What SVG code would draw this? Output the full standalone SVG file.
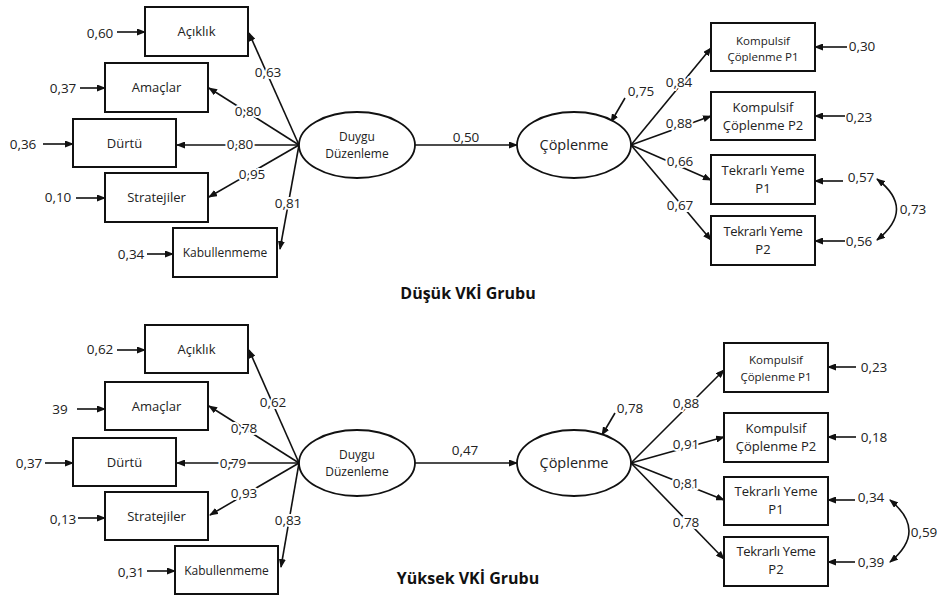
<svg xmlns="http://www.w3.org/2000/svg" width="937" height="597" viewBox="0 0 937 597">
<style>
text{font-family:"Open Sans","Liberation Sans",sans-serif;fill:#222;}
.box{fill:#fff;stroke:#111;stroke-width:2;}
.ell{fill:#fff;stroke:#111;stroke-width:1.8;}
.t13{font-size:13px;text-anchor:middle;}
.t12{font-size:12px;text-anchor:middle;}
.t11{font-size:11.5px;text-anchor:middle;}
.t15{font-size:14.5px;text-anchor:middle;}
.num{font-size:13.5px;text-anchor:middle;}
.lbl{font-size:13.5px;text-anchor:middle;stroke:#fff;stroke-width:4;paint-order:stroke;}
.title{font-size:16px;font-weight:bold;text-anchor:middle;fill:#111;}
.c line,.c path{stroke:#111;stroke-width:1.6;fill:none;marker-end:url(#ah);}
.c path.dbl{marker-start:url(#ah2);}
</style>
<defs>
<marker id="ah" markerUnits="userSpaceOnUse" markerWidth="9" markerHeight="7" refX="8" refY="3.5" orient="auto"><path d="M0,0 L9,3.5 L0,7 z" fill="#111"/></marker>
<marker id="ah2" markerUnits="userSpaceOnUse" markerWidth="9" markerHeight="7" refX="8" refY="3.5" orient="auto-start-reverse"><path d="M0,0 L9,3.5 L0,7 z" fill="#111"/></marker>
</defs>

<g id="connectors" class="c">
<!-- top: errors left -->
<line x1="117" y1="32" x2="145" y2="32"/>
<line x1="80" y1="88" x2="105" y2="88"/>
<line x1="43" y1="144" x2="73" y2="144"/>
<line x1="76" y1="198" x2="105" y2="198"/>
<line x1="147" y1="254" x2="173" y2="254"/>
<!-- top: loadings left -->
<line x1="299" y1="145" x2="249" y2="33"/>
<line x1="299" y1="145" x2="209" y2="88"/>
<line x1="299" y1="145" x2="177" y2="145"/>
<line x1="299" y1="145" x2="209" y2="197"/>
<line x1="299" y1="145" x2="280" y2="249"/>
<!-- top: structural -->
<line x1="415" y1="145" x2="517" y2="145"/>
<line x1="625" y1="98" x2="611" y2="122"/>
<!-- top: loadings right -->
<line x1="631" y1="145" x2="711" y2="48"/>
<line x1="631" y1="145" x2="711" y2="116"/>
<line x1="631" y1="145" x2="711" y2="180"/>
<line x1="631" y1="145" x2="711" y2="240"/>
<!-- top: errors right -->
<line x1="847" y1="47" x2="815" y2="47"/>
<line x1="845" y1="116" x2="815" y2="116"/>
<line x1="843" y1="181" x2="815" y2="181"/>
<line x1="845" y1="241" x2="815" y2="241"/>
<path class="dbl" d="M877,179 Q916,209 877,240"/>

<!-- bottom: errors left -->
<line x1="117" y1="350" x2="145" y2="350"/>
<line x1="77" y1="409" x2="105" y2="409"/>
<line x1="45" y1="463" x2="73" y2="463"/>
<line x1="78" y1="518" x2="105" y2="518"/>
<line x1="147" y1="571" x2="175" y2="571"/>
<!-- bottom: loadings left -->
<line x1="299" y1="463" x2="249" y2="350"/>
<line x1="299" y1="463" x2="209" y2="406"/>
<line x1="299" y1="463" x2="177" y2="463"/>
<line x1="299" y1="463" x2="210" y2="515"/>
<line x1="299" y1="463" x2="281" y2="567"/>
<!-- bottom: structural -->
<line x1="415" y1="463" x2="517" y2="463"/>
<line x1="615" y1="413" x2="602" y2="435"/>
<!-- bottom: loadings right -->
<line x1="631" y1="463" x2="724" y2="370"/>
<line x1="631" y1="463" x2="724" y2="437"/>
<line x1="631" y1="463" x2="724" y2="500"/>
<line x1="631" y1="463" x2="724" y2="559"/>
<!-- bottom: errors right -->
<line x1="856" y1="367" x2="828" y2="367"/>
<line x1="856" y1="437" x2="828" y2="437"/>
<line x1="855" y1="500" x2="828" y2="500"/>
<line x1="855" y1="562" x2="828" y2="562"/>
<path class="dbl" d="M890,500 Q928,531 890,562"/>
</g>

<g id="connector-labels">
<text class="num" x="100" y="38">0,60</text>
<text class="num" x="63" y="93">0,37</text>
<text class="num" x="23" y="149">0,36</text>
<text class="num" x="58" y="202">0,10</text>
<text class="num" x="131" y="259">0,34</text>
<text class="lbl" x="268" y="77">0,63</text>
<text class="lbl" x="248" y="116">0,80</text>
<text class="lbl" x="240" y="149">0,80</text>
<text class="lbl" x="252" y="179">0,95</text>
<text class="lbl" x="288" y="208">0,81</text>
<text class="num" x="466" y="142">0,50</text>
<text class="num" x="641" y="96">0,75</text>
<text class="lbl" x="679" y="87">0,84</text>
<text class="lbl" x="679" y="128">0,88</text>
<text class="lbl" x="680" y="166">0,66</text>
<text class="lbl" x="680" y="210">0,67</text>
<text class="num" x="862" y="51">0,30</text>
<text class="num" x="859" y="122">0,23</text>
<text class="num" x="861" y="182">0,57</text>
<text class="num" x="859" y="246">0,56</text>
<text class="num" x="913" y="214">0,73</text>

<text class="num" x="100" y="354">0,62</text>
<text class="num" x="60" y="414">39</text>
<text class="num" x="29" y="468">0,37</text>
<text class="num" x="63" y="524">0,13</text>
<text class="num" x="131" y="577">0,31</text>
<text class="lbl" x="273" y="407">0,62</text>
<text class="lbl" x="244" y="433">0,78</text>
<text class="lbl" x="233" y="468">0,79</text>
<text class="lbl" x="244" y="498">0,93</text>
<text class="lbl" x="288" y="525">0,83</text>
<text class="num" x="465" y="455">0,47</text>
<text class="num" x="630" y="413">0,78</text>
<text class="lbl" x="686" y="408">0,88</text>
<text class="lbl" x="686" y="449">0,91</text>
<text class="lbl" x="686" y="488">0,81</text>
<text class="lbl" x="686" y="527">0,78</text>
<text class="num" x="874" y="372">0,23</text>
<text class="num" x="874" y="442">0,18</text>
<text class="num" x="871" y="502">0,34</text>
<text class="num" x="871" y="567">0,39</text>
<text class="num" x="924" y="537">0,59</text>
</g>

<!-- top group nodes -->
<g id="t-aciklik"><rect class="box" x="145" y="7" width="103" height="49"/><text class="t13" x="196.5" y="36">Açıklık</text></g>
<g id="t-amaclar"><rect class="box" x="105" y="63" width="103" height="49"/><text class="t13" x="156.5" y="92">Amaçlar</text></g>
<g id="t-durtu"><rect class="box" x="73" y="119" width="103" height="48"/><text class="t13" x="124.5" y="148">Dürtü</text></g>
<g id="t-stratejiler"><rect class="box" x="105" y="173" width="103" height="49"/><text class="t13" x="156.5" y="202">Stratejiler</text></g>
<g id="t-kabullenmeme"><rect class="box" x="173" y="228" width="104" height="49"/><text class="t12" x="225" y="257">Kabullenmeme</text></g>
<g id="t-duygu"><ellipse class="ell" cx="357" cy="145" rx="58" ry="33"/><text class="t12" x="357" y="141">Duygu</text><text class="t12" x="357" y="158">Düzenleme</text></g>
<g id="t-coplenme"><ellipse class="ell" cx="574" cy="145" rx="57" ry="33"/><text class="t15" x="574" y="150">Çöplenme</text></g>
<g id="t-kc1"><rect class="box" x="711" y="23" width="104" height="48"/><text class="t11" x="763" y="45">Kompulsif</text><text class="t11" x="763" y="61">Çöplenme P1</text></g>
<g id="t-kc2"><rect class="box" x="711" y="92" width="104" height="48"/><text class="t13" x="763" y="112">Kompulsif</text><text class="t13" x="763" y="130">Çöplenme P2</text></g>
<g id="t-ty1"><rect class="box" x="711" y="155" width="104" height="49"/><text class="t13" x="763" y="175">Tekrarlı Yeme</text><text class="t13" x="763" y="193">P1</text></g>
<g id="t-ty2"><rect class="box" x="711" y="216" width="104" height="49"/><text class="t13" x="763" y="236" letter-spacing="-0.3">Tekrarlı Yeme</text><text class="t13" x="763" y="254">P2</text></g>
<g id="t-title"><text class="title" x="468" y="299">Düşük VKİ Grubu</text></g>

<!-- bottom group nodes -->
<g id="b-aciklik"><rect class="box" x="145" y="325" width="103" height="48"/><text class="t13" x="196.5" y="354">Açıklık</text></g>
<g id="b-amaclar"><rect class="box" x="105" y="382" width="103" height="48"/><text class="t13" x="156.5" y="411">Amaçlar</text></g>
<g id="b-durtu"><rect class="box" x="73" y="438" width="103" height="48"/><text class="t13" x="124.5" y="467">Dürtü</text></g>
<g id="b-stratejiler"><rect class="box" x="105" y="492" width="103" height="48"/><text class="t13" x="156.5" y="521">Stratejiler</text></g>
<g id="b-kabullenmeme"><rect class="box" x="175" y="546" width="103" height="48"/><text class="t12" x="226.5" y="575">Kabullenmeme</text></g>
<g id="b-duygu"><ellipse class="ell" cx="357" cy="463" rx="58" ry="33"/><text class="t12" x="357" y="459">Duygu</text><text class="t12" x="357" y="476">Düzenleme</text></g>
<g id="b-coplenme"><ellipse class="ell" cx="574" cy="463" rx="57" ry="33"/><text class="t15" x="574" y="468">Çöplenme</text></g>
<g id="b-kc1"><rect class="box" x="724" y="343" width="104" height="49"/><text class="t11" x="776" y="364">Kompulsif</text><text class="t11" x="776" y="381">Çöplenme P1</text></g>
<g id="b-kc2"><rect class="box" x="724" y="413" width="104" height="49"/><text class="t13" x="776" y="433">Kompulsif</text><text class="t13" x="776" y="451">Çöplenme P2</text></g>
<g id="b-ty1"><rect class="box" x="724" y="477" width="104" height="48"/><text class="t13" x="776" y="496">Tekrarlı Yeme</text><text class="t13" x="776" y="514">P1</text></g>
<g id="b-ty2"><rect class="box" x="724" y="537" width="104" height="49"/><text class="t13" x="776" y="556" letter-spacing="-0.3">Tekrarlı Yeme</text><text class="t13" x="776" y="574">P2</text></g>
<g id="b-title"><text class="title" x="468" y="584">Yüksek VKİ Grubu</text></g>
</svg>
